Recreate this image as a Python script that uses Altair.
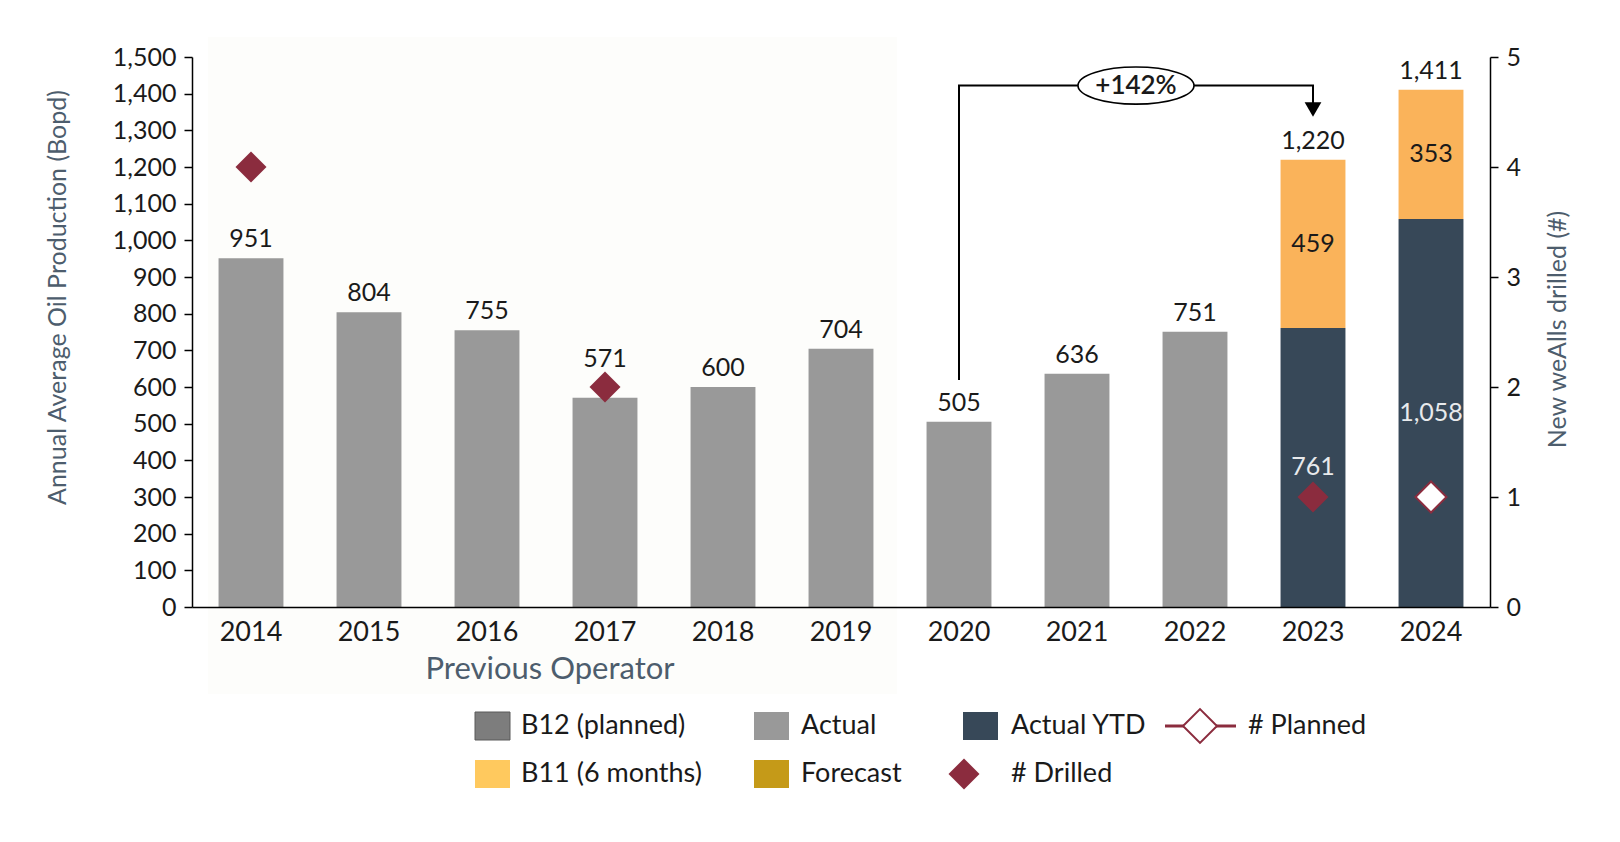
import altair as alt
import pandas as pd

# ---------------- data ----------------
years = ["2014", "2015", "2016", "2017", "2018", "2019", "2020", "2021", "2022", "2023", "2024"]
actual = [951, 804, 755, 571, 600, 704, 505, 636, 751, None, None]
actual_ytd = [None, None, None, None, None, None, None, None, None, 761, 1058]
b11 = [None, None, None, None, None, None, None, None, None, 459, 353]
totals = [951, 804, 755, 571, 600, 704, 505, 636, 751, 1220, 1411]

drilled_years = ["2014", "2017", "2023"]
drilled_wells = [4, 2, 1]
planned_years = ["2024"]
planned_wells = [1]

left_ticks = [0, 100, 200, 300, 400, 500, 600, 700, 800, 900, 1000, 1100, 1200, 1300, 1400, 1500]
right_ticks = [0, 1, 2, 3, 4, 5]

growth_label = "+142%"
bracket_years = ["2020", "2020", "2023", "2023"]
bracket_values = [619, 1422, 1422, 1370]
arrow_value = 1357

# ---------------- styling ----------------
FONT = "Lato"
C_GRAY = "#999999"
C_DARK = "#374858"
C_ORANGE = "#fab35a"
C_B11_LEG = "#ffc95e"
C_GOLD = "#c59a18"
C_RED = "#8b2c3e"
C_SLATE = "#4d5d6d"
C_TEXT = "#1a1a1a"
C_LIGHT = "#e8eaec"

W, H = 1298, 550
PAD_IN = 0.45
STEP = W / len(years)
EDGE_OFF = STEP * PAD_IN / 2  # from band right edge to the boundary between two bands

LEFT_TITLE = "Annual Average Oil Production (Bopd)"
RIGHT_TITLE = "New weAlls drilled (#)"

AX_X = alt.Axis(title=None, labelAngle=0, ticks=False, labelPadding=12, labelFontSize=27, zindex=2)
AX_L = alt.Axis(
    title=LEFT_TITLE, values=left_ticks, format=",.0f", orient="left", zindex=2,
    titleAngle=270, titleX=-135, titleY=240, titleAlign="center", titleBaseline="middle",
)
AX_R = alt.Axis(
    title=RIGHT_TITLE, values=right_ticks, format="d", orient="right", zindex=2,
    titleAngle=270, titleX=67, titleY=272, titleAlign="center", titleBaseline="middle",
)

# ---------------- tables ----------------
rows = []
for y, a, ytd, b in zip(years, actual, actual_ytd, b11):
    if a is not None:
        rows.append({"year": y, "segment": "Actual", "value": a, "ord": 0})
    if ytd is not None:
        rows.append({"year": y, "segment": "Actual YTD", "value": ytd, "ord": 0})
    if b is not None:
        rows.append({"year": y, "segment": "B11", "value": b, "ord": 1})
bars_df = pd.DataFrame(rows)

totals_df = pd.DataFrame({"year": years, "total": totals})
totals_df["label"] = totals_df["total"].map(lambda v: f"{v:,}")

light_rows, dark_rows = [], []
for y, ytd, b in zip(years, actual_ytd, b11):
    if ytd is not None:
        light_rows.append({"year": y, "mid": ytd / 2, "label": f"{ytd:,}"})
    if b is not None:
        dark_rows.append({"year": y, "mid": ytd + b / 2, "label": f"{b:,}"})
light_df = pd.DataFrame(light_rows)
dark_df = pd.DataFrame(dark_rows)

drilled_df = pd.DataFrame({"year": drilled_years, "wells": drilled_wells})
planned_df = pd.DataFrame({"year": planned_years, "wells": planned_wells})
bracket_df = pd.DataFrame({"year": bracket_years, "value": bracket_values, "step": [0, 1, 2, 3]})
arrow_df = pd.DataFrame({"year": ["2023"], "value": [arrow_value]})
ellipse_df = pd.DataFrame({"year": ["2021"], "value": [bracket_values[1]], "label": [growth_label]})
prevop_df = pd.DataFrame({"year": ["2016"], "label": ["Previous Operator"]})
one = pd.DataFrame({"a": [0]})

xscale = alt.Scale(domain=years, paddingInner=PAD_IN, paddingOuter=PAD_IN / 2)
yscale = alt.Scale(domain=[0, 1500], nice=False)
rscale = alt.Scale(domain=[0, 5], nice=False)


def X(bp=None):
    if bp is None:
        return alt.X("year:N", scale=xscale, axis=AX_X)
    return alt.X("year:N", scale=xscale, axis=AX_X, bandPosition=bp)


def YL(field, **kw):
    return alt.Y(field, scale=yscale, axis=AX_L, **kw)


def YR(field):
    return alt.Y(field, scale=rscale, axis=AX_R)


# ---------------- left layers ----------------
shade = alt.Chart(one).mark_rect(color="#fdfdfb").encode(
    x=alt.value(16), x2=alt.value(705), y=alt.value(-20), y2=alt.value(637)
)

bars = alt.Chart(bars_df).mark_bar().encode(
    x=X(),
    y=YL("value:Q", stack="zero"),
    color=alt.Color(
        "segment:N",
        scale=alt.Scale(domain=["Actual", "Actual YTD", "B11"], range=[C_GRAY, C_DARK, C_ORANGE]),
        legend=None,
    ),
    order=alt.Order("ord:Q"),
)

total_text = alt.Chart(totals_df).transform_filter(alt.datum.year != "2017").mark_text(
    font=FONT, fontSize=25, color=C_TEXT, baseline="alphabetic", dy=-11
).encode(x=X(), y=YL("total:Q"), text="label:N")

total_text_lifted = alt.Chart(totals_df).transform_filter(alt.datum.year == "2017").mark_text(
    font=FONT, fontSize=25, color=C_TEXT, baseline="alphabetic", dy=-31
).encode(x=X(), y=YL("total:Q"), text="label:N")

light_text = alt.Chart(light_df).mark_text(
    font=FONT, fontSize=25, baseline="middle", color=C_LIGHT
).encode(x=X(), y=YL("mid:Q"), text="label:N")

dark_text = alt.Chart(dark_df).mark_text(
    font=FONT, fontSize=25, baseline="middle", color=C_TEXT
).encode(x=X(), y=YL("mid:Q"), text="label:N")

bracket = alt.Chart(bracket_df).mark_line(color="black", strokeWidth=2).encode(
    x=X(), y=YL("value:Q"), order="step:Q"
)

arrow = alt.Chart(arrow_df).mark_point(
    shape="triangle-down", filled=True, size=280, color="black", opacity=1
).encode(x=X(), y=YL("value:Q"))

ellipse = alt.Chart(ellipse_df).mark_point(
    shape="M-1,0 A1,0.32 0 1,1 1,0 A1,0.32 0 1,1 -1,0 Z",
    size=116 * 116, filled=True, fill="white", stroke="black", strokeWidth=1.6, opacity=1,
    xOffset=EDGE_OFF,
).encode(x=X(1), y=YL("value:Q"))

ellipse_text = alt.Chart(ellipse_df).mark_text(
    font=FONT, fontSize=26, fontWeight=600, color=C_TEXT, baseline="middle", dx=EDGE_OFF
).encode(x=X(1), y=YL("value:Q"), text="label:N")

prevop = alt.Chart(prevop_df).mark_text(
    font=FONT, fontSize=31, color=C_SLATE, baseline="middle", dx=EDGE_OFF + 4
).encode(x=X(1), y=alt.value(613), text="label:N")

# ---------------- manual legend ----------------
R1, R2 = 669, 717


def swatch(x0, yc, fill, stroke=None):
    kw = {"color": fill}
    if stroke:
        kw.update(stroke=stroke, strokeWidth=1)
    return alt.Chart(one).mark_rect(**kw).encode(
        x=alt.value(x0), x2=alt.value(x0 + 35), y=alt.value(yc - 14), y2=alt.value(yc + 14)
    )


def label(x0, yc, txt):
    return alt.Chart(one).mark_text(
        text=txt, font=FONT, fontSize=27, color=C_TEXT, align="left", baseline="middle"
    ).encode(x=alt.value(x0), y=alt.value(yc))


legend_layers = [
    swatch(283, R1, "#7d7d7d", "#5a5a5a"), label(329, R1, "B12 (planned)"),
    swatch(562, R1, C_GRAY), label(609, R1, "Actual"),
    swatch(771, R1, C_DARK), label(819, R1, "Actual YTD"),
    alt.Chart(one).mark_rule(color=C_RED, strokeWidth=3).encode(
        x=alt.value(973), x2=alt.value(1044), y=alt.value(R1)
    ),
    alt.Chart(one).mark_point(
        shape="diamond", size=1150, filled=True, fill="white", stroke=C_RED, strokeWidth=2, opacity=1
    ).encode(x=alt.value(1008), y=alt.value(R1)),
    label(1056, R1, "# Planned"),
    swatch(283, R2, C_B11_LEG), label(329, R2, "B11 (6 months)"),
    swatch(562, R2, C_GOLD), label(609, R2, "Forecast"),
    alt.Chart(one).mark_point(
        shape="diamond", size=960, filled=True, color=C_RED, opacity=1
    ).encode(x=alt.value(772), y=alt.value(R2)),
    label(819, R2, "# Drilled"),
]

left = alt.layer(
    shade, bars, total_text, total_text_lifted, light_text, dark_text,
    bracket, arrow, ellipse, ellipse_text, prevop, *legend_layers
)

# ---------------- right layers ----------------
drilled = alt.Chart(drilled_df).mark_point(
    shape="diamond", size=960, filled=True, color=C_RED, opacity=1
).encode(x=X(), y=YR("wells:Q"))

planned = alt.Chart(planned_df).mark_point(
    shape="diamond", size=960, filled=True, fill="white", stroke=C_RED, strokeWidth=2, opacity=1
).encode(x=X(), y=YR("wells:Q"))

right = alt.layer(drilled, planned)

chart = (
    alt.layer(left, right)
    .resolve_scale(y="independent")
    .properties(
        width=W,
        height=H,
        padding={"left": 184, "top": 49, "right": 110, "bottom": 220},
        autosize=alt.AutoSizeParams(type="none"),
        background="white",
    )
    .configure_view(stroke=None)
    .configure_text(font=FONT)
    .configure_axis(
        grid=False,
        labelFont=FONT, labelFontSize=25, labelColor=C_TEXT,
        titleFont=FONT, titleFontSize=25, titleColor=C_SLATE, titleFontWeight="normal",
        domainColor="black", domainWidth=1.5,
        tickColor="black", tickWidth=1.5, tickSize=8, labelPadding=8,
    )
)

chart.save("out.html", embed_options={"renderer": "svg", "actions": False})
